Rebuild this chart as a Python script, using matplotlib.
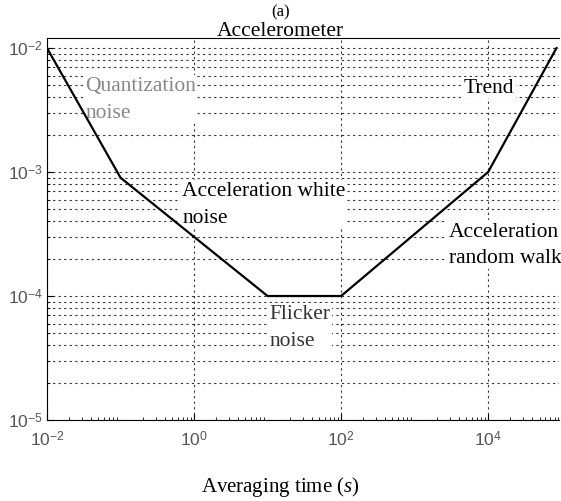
import matplotlib
matplotlib.use("Agg")
import matplotlib.pyplot as plt
from matplotlib.ticker import LogLocator, NullFormatter

plt.rcParams['font.family'] = ['Liberation Serif', 'DejaVu Serif']
plt.rcParams['mathtext.fontset'] = 'custom'
plt.rcParams['mathtext.rm'] = 'Liberation Sans'
plt.rcParams['mathtext.it'] = 'Liberation Serif:italic'

tau = [1e-2, 1e-1, 1e1, 1e2, 1e4, 8.5e4]
sigma = [1e-2, 9e-4, 1e-4, 1e-4, 1e-3, 1e-2]

xticks = [1e-2, 1e0, 1e2, 1e4]
xticklabels = [r'$\mathrm{10}^{-2}$', r'$\mathrm{10}^{0}$', r'$\mathrm{10}^{2}$', r'$\mathrm{10}^{4}$']
yticks = [1e-5, 1e-4, 1e-3, 1e-2]
yticklabels = [r'$\mathrm{10}^{-5}$', r'$\mathrm{10}^{-4}$', r'$\mathrm{10}^{-3}$', r'$\mathrm{10}^{-2}$']

fig = plt.figure(figsize=(5.61, 5.02), dpi=100)
ax = fig.add_axes([47/561, 1-421/502, (559-47)/561, (421-39)/502])
ax.set_xscale('log')
ax.set_yscale('log')
ax.set_xlim(1e-2, 9.2e4)
ax.set_ylim(1e-5, 10**-1.919)

ax.plot(tau, sigma, color='black', lw=1.6, zorder=3)

ax.set_xticks(xticks)
ax.set_xticklabels(xticklabels)
ax.set_yticks(yticks)
ax.set_yticklabels(yticklabels)
ax.yaxis.set_minor_locator(LogLocator(base=10, subs=range(2, 10)))
ax.xaxis.set_minor_locator(LogLocator(base=10, subs=range(2, 10)))
ax.xaxis.set_minor_formatter(NullFormatter())
ax.yaxis.set_minor_formatter(NullFormatter())
ax.tick_params(which='both', direction='in', labelsize=12.5, labelcolor='#555')
ax.tick_params(which='major', length=4)
ax.tick_params(which='minor', length=2)
ax.tick_params(axis='x', pad=7)
ax.tick_params(axis='y', pad=3)

ax.grid(True, which='major', axis='x', linestyle=(0, (2, 3)), color='#333', lw=0.8)
ax.grid(True, which='both', axis='y', linestyle=(0, (2, 3)), color='#333', lw=0.8)

ax.spines['right'].set_visible(False)

tk = dict(fontsize=15.5, zorder=2, linespacing=1.55)
bb = dict(facecolor='white', edgecolor='none', pad=1)
ax.text(3.3e-2, 3.9e-3, 'Quantization\nnoise', color='#888', va='center', ha='left', bbox=bb, **tk)
ax.text(4.7e3, 4.8e-3, 'Trend', color='black', va='center', ha='left', bbox=bb, **tk)
ax.text(0.69, 5.5e-4, 'Acceleration white\nnoise', color='black', va='center', ha='left', bbox=bb, **tk)
ax.text(2.9e3, 2.6e-4, 'Acceleration\nrandom walk', color='black', va='center', ha='left', bbox=bb, **tk)
ax.text(10.7, 5.6e-5, 'Flicker\nnoise', color='#333', va='center', ha='left', bbox=bb, **tk)

fig.text(0.5, 1-12/502, '(a)', ha='center', va='center', fontsize=12)
fig.text(0.5, 1-32/502, 'Accelerometer', ha='center', va='center', fontsize=15.5)
fig.text(0.5, 1-487/502, r'Averaging time ($s$)', ha='center', va='center', fontsize=15)

fig.savefig('out.png', dpi=100)
